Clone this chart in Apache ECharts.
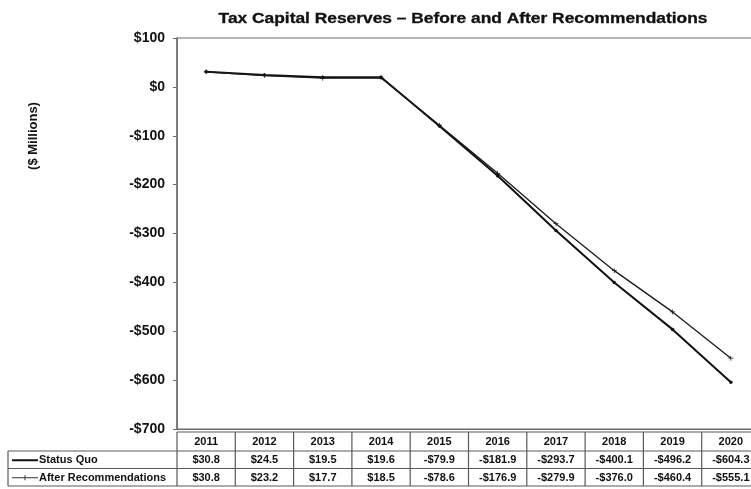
<!DOCTYPE html>
<html>
<head>
<meta charset="utf-8">
<script src="https://cdn.jsdelivr.net/npm/echarts@6/dist/echarts.min.js"></script>
<style>
  html, body { margin: 0; padding: 0; background: #fff; }
  #chart { width: 751px; height: 489px; }
</style>
</head>
<body>
<div id="chart"></div>
<script>
// Fiscal years shown along the x axis and in the data table
const years = ['2011', '2012', '2013', '2014', '2015', '2016', '2017', '2018', '2019', '2020'];
// Tax capital reserves, $ millions
const statusQuo = [30.8, 24.5, 19.5, 19.6, -79.9, -181.9, -293.7, -400.1, -496.2, -604.3];
const afterRecommendations = [30.8, 23.2, 17.7, 18.5, -78.6, -176.9, -279.9, -376.0, -460.4, -555.1];
const seriesNames = ['Status Quo', 'After Recommendations'];
// Value axis range
const yMin = -700, yMax = 100, yStep = 100;

const FONT = '"Liberation Sans", Arial, sans-serif';
const INK = '#111';
const RULE = '#5a5a5a';

function money(v, digits) {
  const s = '$' + Math.abs(v).toFixed(digits);
  return v < 0 ? '-' + s : s;
}

const chart = echarts.init(document.getElementById('chart'), null, { renderer: 'canvas' });

const crossSymbol = 'path://M0,4.3H10V5.7H0Z M4.3,1H5.7V9H4.3Z';

chart.setOption({
  animation: false,
  backgroundColor: '#fff',
  grid: {
    left: 177, top: 38, right: -9, height: 391,
    outerBoundsMode: 'none',
    show: true, borderColor: '#6a6a6a', borderWidth: 1
  },
  xAxis: {
    type: 'category',
    data: years,
    boundaryGap: true,
    axisLine: { show: true, onZero: false, lineStyle: { color: '#6a6a6a', width: 1 } },
    axisTick: { show: false },
    axisLabel: { show: false },
    splitLine: { show: false }
  },
  yAxis: {
    type: 'value',
    min: yMin, max: yMax, interval: yStep,
    axisLine: { show: true, lineStyle: { color: '#6a6a6a', width: 1.5 } },
    axisTick: { show: true, length: 4, lineStyle: { color: '#6a6a6a' } },
    splitLine: { show: false },
    axisLabel: {
      margin: 12,
      fontFamily: FONT, fontSize: 14, fontWeight: 'bold', color: INK,
      formatter: v => money(v, 0)
    }
  },
  series: [
    {
      name: seriesNames[0],
      type: 'line',
      data: statusQuo,
      symbol: 'circle', symbolSize: 3.5,
      lineStyle: { color: INK, width: 2 },
      itemStyle: { color: INK }
    },
    {
      name: seriesNames[1],
      type: 'line',
      data: afterRecommendations,
      symbol: crossSymbol, symbolSize: 5,
      lineStyle: { color: '#1a1a1a', width: 1.3 },
      itemStyle: { color: '#1a1a1a' }
    }
  ]
});

// Data table under the plot, aligned to the category axis columns
function buildTable() {
  const xs = years.map(y => chart.convertToPixel({ xAxisIndex: 0 }, y));
  const colW = xs[1] - xs[0];
  const left = xs[0] - colW / 2;
  const right = xs[xs.length - 1] + colW / 2;
  const axisBottom = chart.convertToPixel({ yAxisIndex: 0 }, yMin);
  const rowTop = [axisBottom + 3, axisBottom + 22, axisBottom + 39.5];
  const rowBottom = axisBottom + 57;
  const labelLeft = 8;
  const els = [];
  const line = (x1, y1, x2, y2, w) => els.push({
    type: 'line', silent: true,
    shape: { x1, y1, x2, y2 },
    style: { stroke: RULE, lineWidth: w || 1.2 }
  });
  const text = (x, y, s, align) => els.push({
    type: 'text', silent: true,
    style: {
      x, y, text: s, align: align || 'center', verticalAlign: 'middle',
      font: 'bold 11px ' + FONT, fill: INK
    }
  });

  // horizontal rules
  line(left, rowTop[0], right, rowTop[0]);
  line(labelLeft, rowTop[1], right, rowTop[1]);
  line(labelLeft, rowTop[2], right, rowTop[2]);
  line(labelLeft, rowBottom, right, rowBottom);
  // vertical rules
  line(labelLeft, rowTop[1], labelLeft, rowBottom);
  for (let i = 0; i <= years.length; i++) {
    const x = left + i * colW;
    line(x, rowTop[0], x, rowBottom);
  }

  const mid = [0, 1, 2].map(r => ((r < 2 ? rowTop[r + 1] : rowBottom) + rowTop[r]) / 2 + 0.5);
  years.forEach((y, i) => {
    text(xs[i], mid[0], y);
    text(xs[i], mid[1], money(statusQuo[i], 1));
    text(xs[i], mid[2], money(afterRecommendations[i], 1));
  });

  // series keys in the label column
  els.push({
    type: 'line', silent: true,
    shape: { x1: 12, y1: mid[1], x2: 38, y2: mid[1] },
    style: { stroke: INK, lineWidth: 2 }
  });
  text(39, mid[1], seriesNames[0], 'left');
  els.push({
    type: 'line', silent: true,
    shape: { x1: 12, y1: mid[2], x2: 38, y2: mid[2] },
    style: { stroke: '#333', lineWidth: 1 }
  });
  els.push({
    type: 'line', silent: true,
    shape: { x1: 25, y1: mid[2] - 2.5, x2: 25, y2: mid[2] + 2.5 },
    style: { stroke: '#333', lineWidth: 1 }
  });
  text(39, mid[2], seriesNames[1], 'left');

  // rotated unit label for the value axis
  els.push({
    type: 'text', silent: true,
    x: 33, y: 136, rotation: Math.PI / 2,
    style: {
      text: '($ Millions)', align: 'center', verticalAlign: 'middle',
      font: 'bold 13px ' + FONT, fill: INK
    }
  });

  // chart title, set in a wide bold face
  els.push({
    type: 'text', silent: true,
    x: 463, y: 19, scaleX: 1.24,
    style: {
      text: 'Tax Capital Reserves \u2013 Before and After Recommendations',
      align: 'center', verticalAlign: 'middle',
      font: 'bold 14px ' + FONT, fill: INK,
      stroke: INK, lineWidth: 0.3
    }
  });

  chart.setOption({ graphic: { elements: els } });
}
buildTable();
</script>
</body>
</html>
